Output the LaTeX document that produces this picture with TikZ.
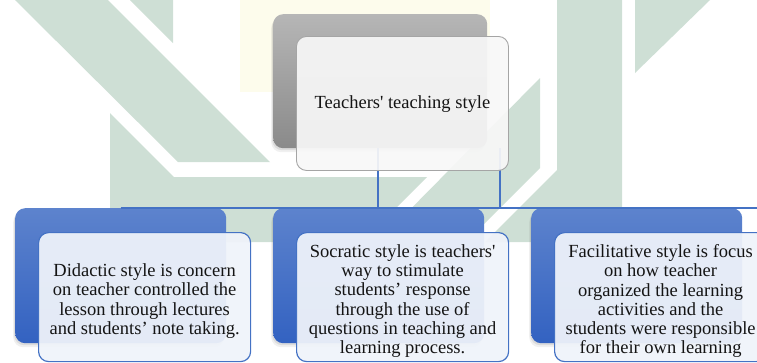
\documentclass[tikz,border=0pt]{standalone}
\usepackage{fontspec}
\setmainfont{Liberation Serif}
\usetikzlibrary{shadows}

\definecolor{wm}{RGB}{206,223,213}
\definecolor{wmy}{RGB}{253,252,236}
\definecolor{conn}{RGB}{68,114,196}
\definecolor{greytop}{RGB}{182,182,182}
\definecolor{greybot}{RGB}{138,138,138}
\definecolor{bluetop}{RGB}{93,131,205}
\definecolor{bluebot}{RGB}{51,98,193}
\definecolor{paneblue}{RGB}{239,243,250}
\definecolor{panegrey}{RGB}{247,247,247}
\definecolor{rimgrey}{RGB}{165,165,165}

\begin{document}
\begin{tikzpicture}[x=1pt,y=-1pt,
  card/.style={rounded corners=10pt, inner sep=0pt, anchor=north west,
    minimum width=212pt, minimum height=134pt},
  softshadow/.style={drop shadow={shadow xshift=-1pt, shadow yshift=-2pt, opacity=0.18},
    drop shadow={shadow xshift=-2pt, shadow yshift=-4pt, opacity=0.12}},
  greyback/.style={card, softshadow, top color=greytop, bottom color=greybot,
    minimum width=214pt},
  blueback/.style={card, softshadow, top color=bluetop, bottom color=bluebot,
    minimum width=211pt, minimum height=135pt},
  greyfront/.style={card, fill=panegrey, fill opacity=0.93, draw=rimgrey, line width=0.9pt},
  bluefront/.style={card, fill=paneblue, fill opacity=0.94, draw=conn, line width=1.2pt,
    minimum height=129pt},
  conn line/.style={draw=conn, line width=2pt},
  cardtext/.style={align=center, inner sep=0pt, text=black!92,
    font=\fontsize{18.5}{19.2}\selectfont}
]
\useasboundingbox (0,0) rectangle (757,362);

% faint watermark shapes in the background
\fill[wmy] (240,0) rectangle (490,92);
\fill[wm] (15,0) -- (108,0) -- (270,162) -- (178,162) -- cycle;
\fill[wm] (130,0) -- (173,0) -- (173,43) -- cycle;
\fill[wm] (110,113) -- (174,177) -- (427,177) -- (362,242) -- (110,242) -- cycle;
\fill[wm] (540,78) -- (540,168) -- (466,242) -- (378,242) -- cycle;
\fill[wm] (557,0) -- (622,0) -- (622,242) -- (485,242) -- (557,170) -- cycle;
\fill[wm] (635,0) -- (710,0) -- (635,73) -- cycle;

% parent card
\node[greyback] (parentback) at (273,14) {};

\coordinate (j1) at (378,208);
\coordinate (j2) at (500,208);
\coordinate (hr) at (757,208);
\draw[conn line] (parentback.south -| j1) -- (j1);
\draw[conn line] (parentback.south -| j2) -- (j2);

\node[greyfront] (parent) at (296,36) {};
\node[cardtext, yshift=-1pt] (parenttext) at (parent.center)
  {Teachers\textquotesingle{} teaching style};

% child cards
\node[blueback] (c1back) at (15,208) {};
\node[blueback] (c2back) at (273,208) {};
\node[blueback] (c3back) at (531,208) {};

\draw[conn line] (c1back.north) -- (hr);

\node[bluefront] (c1) at (38,232) {};
\node[bluefront] (c2) at (296,232) {};
\node[bluefront] (c3) at (554,232) {};

\node[cardtext, yshift=-4pt] (c1text) at (c1.center)
  {Didactic style is concern\\on teacher controlled the\\lesson through lectures\\and students’ note taking.};
\node[cardtext, yshift=-4pt] (c2text) at (c2.center)
  {Socratic style is teachers\textquotesingle\\way to stimulate\\students’ response\\through the use of\\questions in teaching and\\learning process.};
\node[cardtext, yshift=-4pt] (c3text) at (c3.center)
  {Facilitative style is focus\\on how teacher\\organized the learning\\activities and the\\students were responsible\\for their own learning};
\end{tikzpicture}
\end{document}
